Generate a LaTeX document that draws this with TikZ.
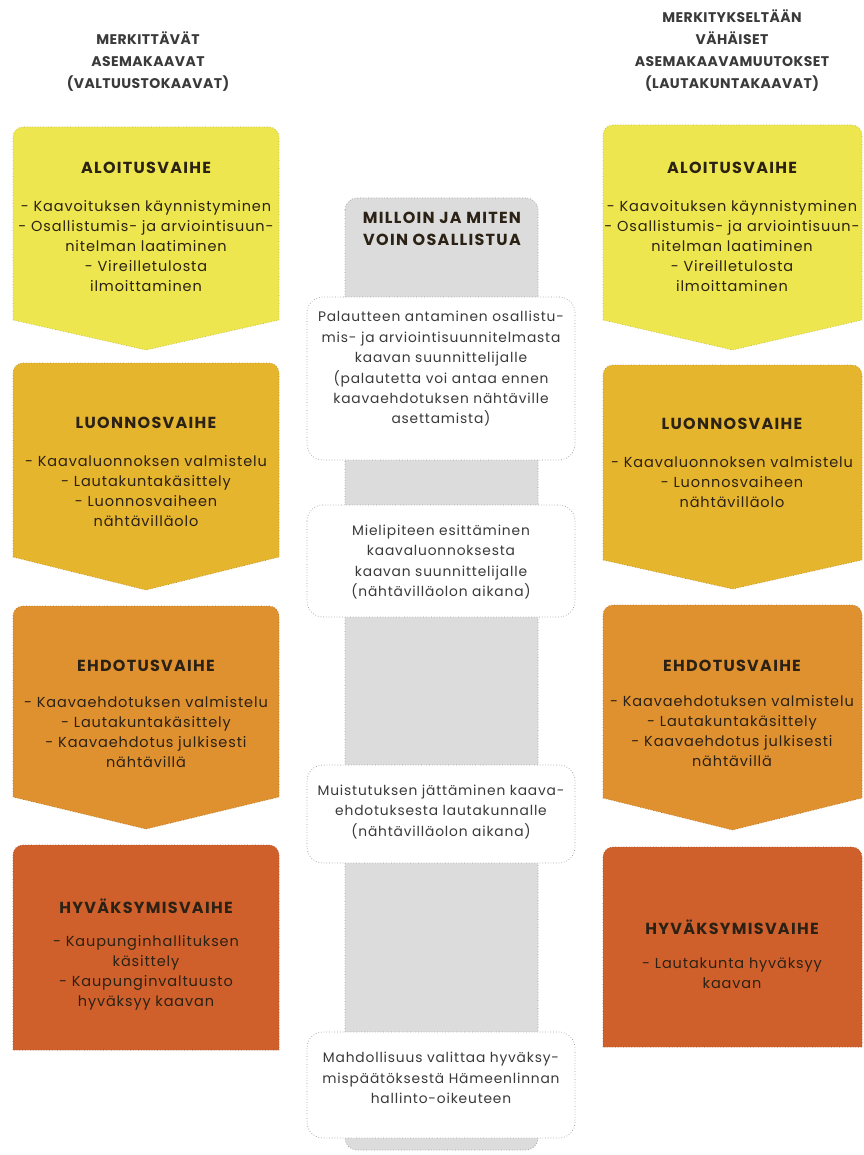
\documentclass[tikz,border=0pt]{standalone}
\usepackage{fontspec}
\setmainfont{Poppins}
\newfontfamily\bodyf[LetterSpace=6]{Poppins}
\newfontfamily\ttlf[LetterSpace=8]{Poppins}
\newfontfamily\hdrf[LetterSpace=3]{Poppins}
\definecolor{yel}{HTML}{EDE64E}
\definecolor{mus}{HTML}{E6B52E}
\definecolor{ora}{HTML}{E0912F}
\definecolor{hyv}{HTML}{D0602B}
\definecolor{strip}{HTML}{DCDCDC}
\definecolor{txt}{HTML}{2B2115}
\definecolor{gtxt}{HTML}{3A3A3A}
\newcommand\chev[6]{%
  \path[fill=#6, draw=#6!80!black, dotted, line width=0.7pt]
    (#1,#4) -- (#1,#3+10) arc[start angle=180,end angle=270,radius=10]
    -- (#2-10,#3) arc[start angle=270,end angle=360,radius=10]
    -- (#2,#4) -- ({(#1+#2)/2},#5) -- cycle;}
\tikzset{
  hdr/.style={font=\hdrf\bfseries\fontsize{14}{22}\selectfont, text=gtxt, align=center},
  ttl/.style={font=\ttlf\bfseries\fontsize{16}{18}\selectfont, text=txt},
  bd/.style={font=\bodyf\fontsize{14.5}{20}\selectfont, text=txt, align=center},
  cbd/.style={font=\bodyf\fontsize{13.8}{20.4}\selectfont, text=gtxt, align=center},
  wbox/.style={draw=gray!80, dotted, line width=0.7pt, fill=white, rounded corners=16}
}
\begin{document}
\begin{tikzpicture}[x=1pt,y=-1pt]
\useasboundingbox[fill=white] (0,0) rectangle (863,1155);
% headers
\node[hdr] (hL) at (148,62) {MERKITTÄVÄT\\ASEMAKAAVAT\\(VALTUUSTOKAAVAT)};
\node[hdr] (hR) at (732,51) {MERKITYKSELTÄÄN\\VÄHÄISET\\ASEMAKAAVAMUUTOKSET\\(LAUTAKUNTAKAAVAT)};
% left column
\chev{13}{279}{127}{320}{350}{yel}
\chev{13}{279}{363}{557}{590}{mus}
\chev{13}{279}{606}{797}{829}{ora}
\chev{13}{279}{845}{1050}{1050}{hyv}
% right column
\chev{603}{862}{125}{320}{350}{yel}
\chev{603}{862}{365}{560}{589}{mus}
\chev{603}{862}{605}{798}{830}{ora}
\chev{603}{862}{847}{1047}{1047}{hyv}
% center strip
\path[fill=strip, draw=gray!80, dotted, line width=0.7pt, rounded corners=12] (345,198) rectangle (538,1150);
\node[font=\ttlf\bfseries\fontsize{16}{22}\selectfont, text=txt, align=center] (q) at (442,229) {MILLOIN JA MITEN\\VOIN OSALLISTUA};
% white boxes
\path[wbox] (307,297) rectangle (575,460);
\path[wbox] (307,505) rectangle (575,617);
\path[wbox] (307,765) rectangle (575,863);
\path[wbox] (307,1032) rectangle (575,1138);
\node[cbd] (c1) at (441,369) {Palautteen antaminen osallistu-\\mis- ja arviointisuunnitelmasta\\kaavan suunnittelijalle\\(palautetta voi antaa ennen\\kaavaehdotuksen nähtäville\\asettamista)};
\node[cbd] (c2) at (441,562) {Mielipiteen esittäminen\\kaavaluonnoksesta\\kaavan suunnittelijalle\\(nähtävilläolon aikana)};
\node[cbd] (c3) at (441,812) {Muistutuksen jättäminen kaava-\\ehdotuksesta lautakunnalle\\(nähtävilläolon aikana)};
\node[cbd] (c4) at (441,1078) {Mahdollisuus valittaa hyväksy-\\mispäätöksestä Hämeenlinnan\\hallinto-oikeuteen};
% left texts
\node[ttl] (tL1) at (146,168) {ALOITUSVAIHE};
\node[bd] (bL1) at (146,246) {- Kaavoituksen käynnistyminen\\- Osallistumis- ja arviointisuun-\\nitelman laatiminen\\- Vireilletulosta\\ilmoittaminen};
\node[ttl] (tL2) at (146,423) {LUONNOSVAIHE};
\node[bd] (bL2) at (146,491) {- Kaavaluonnoksen valmistelu\\- Lautakuntakäsittely\\- Luonnosvaiheen\\nähtävilläolo};
\node[ttl] (tL3) at (146,666) {EHDOTUSVAIHE};
\node[bd] (bL3) at (146,732) {- Kaavaehdotuksen valmistelu\\- Lautakuntakäsittely\\- Kaavaehdotus julkisesti\\nähtävillä};
\node[ttl] (tL4) at (146,906) {HYVÄKSYMISVAIHE};
\node[bd] (bL4) at (146,973) {- Kaupunginhallituksen\\käsittely\\- Kaupunginvaltuusto\\hyväksyy kaavan};
% right texts
\node[ttl] (tR1) at (732,168) {ALOITUSVAIHE};
\node[bd] (bR1) at (732,246) {- Kaavoituksen käynnistyminen\\- Osallistumis- ja arviointisuun-\\nitelman laatiminen\\- Vireilletulosta\\ilmoittaminen};
\node[ttl] (tR2) at (732,424) {LUONNOSVAIHE};
\node[bd] (bR2) at (732,482) {- Kaavaluonnoksen valmistelu\\- Luonnosvaiheen\\nähtävilläolo};
\node[ttl] (tR3) at (732,666) {EHDOTUSVAIHE};
\node[bd] (bR3) at (732,731) {- Kaavaehdotuksen valmistelu\\- Lautakuntakäsittely\\- Kaavaehdotus julkisesti\\nähtävillä};
\node[ttl] (tR4) at (732,927) {HYVÄKSYMISVAIHE};
\node[bd] (bR4) at (732,973) {- Lautakunta hyväksyy\\kaavan};
\end{tikzpicture}
\end{document}
